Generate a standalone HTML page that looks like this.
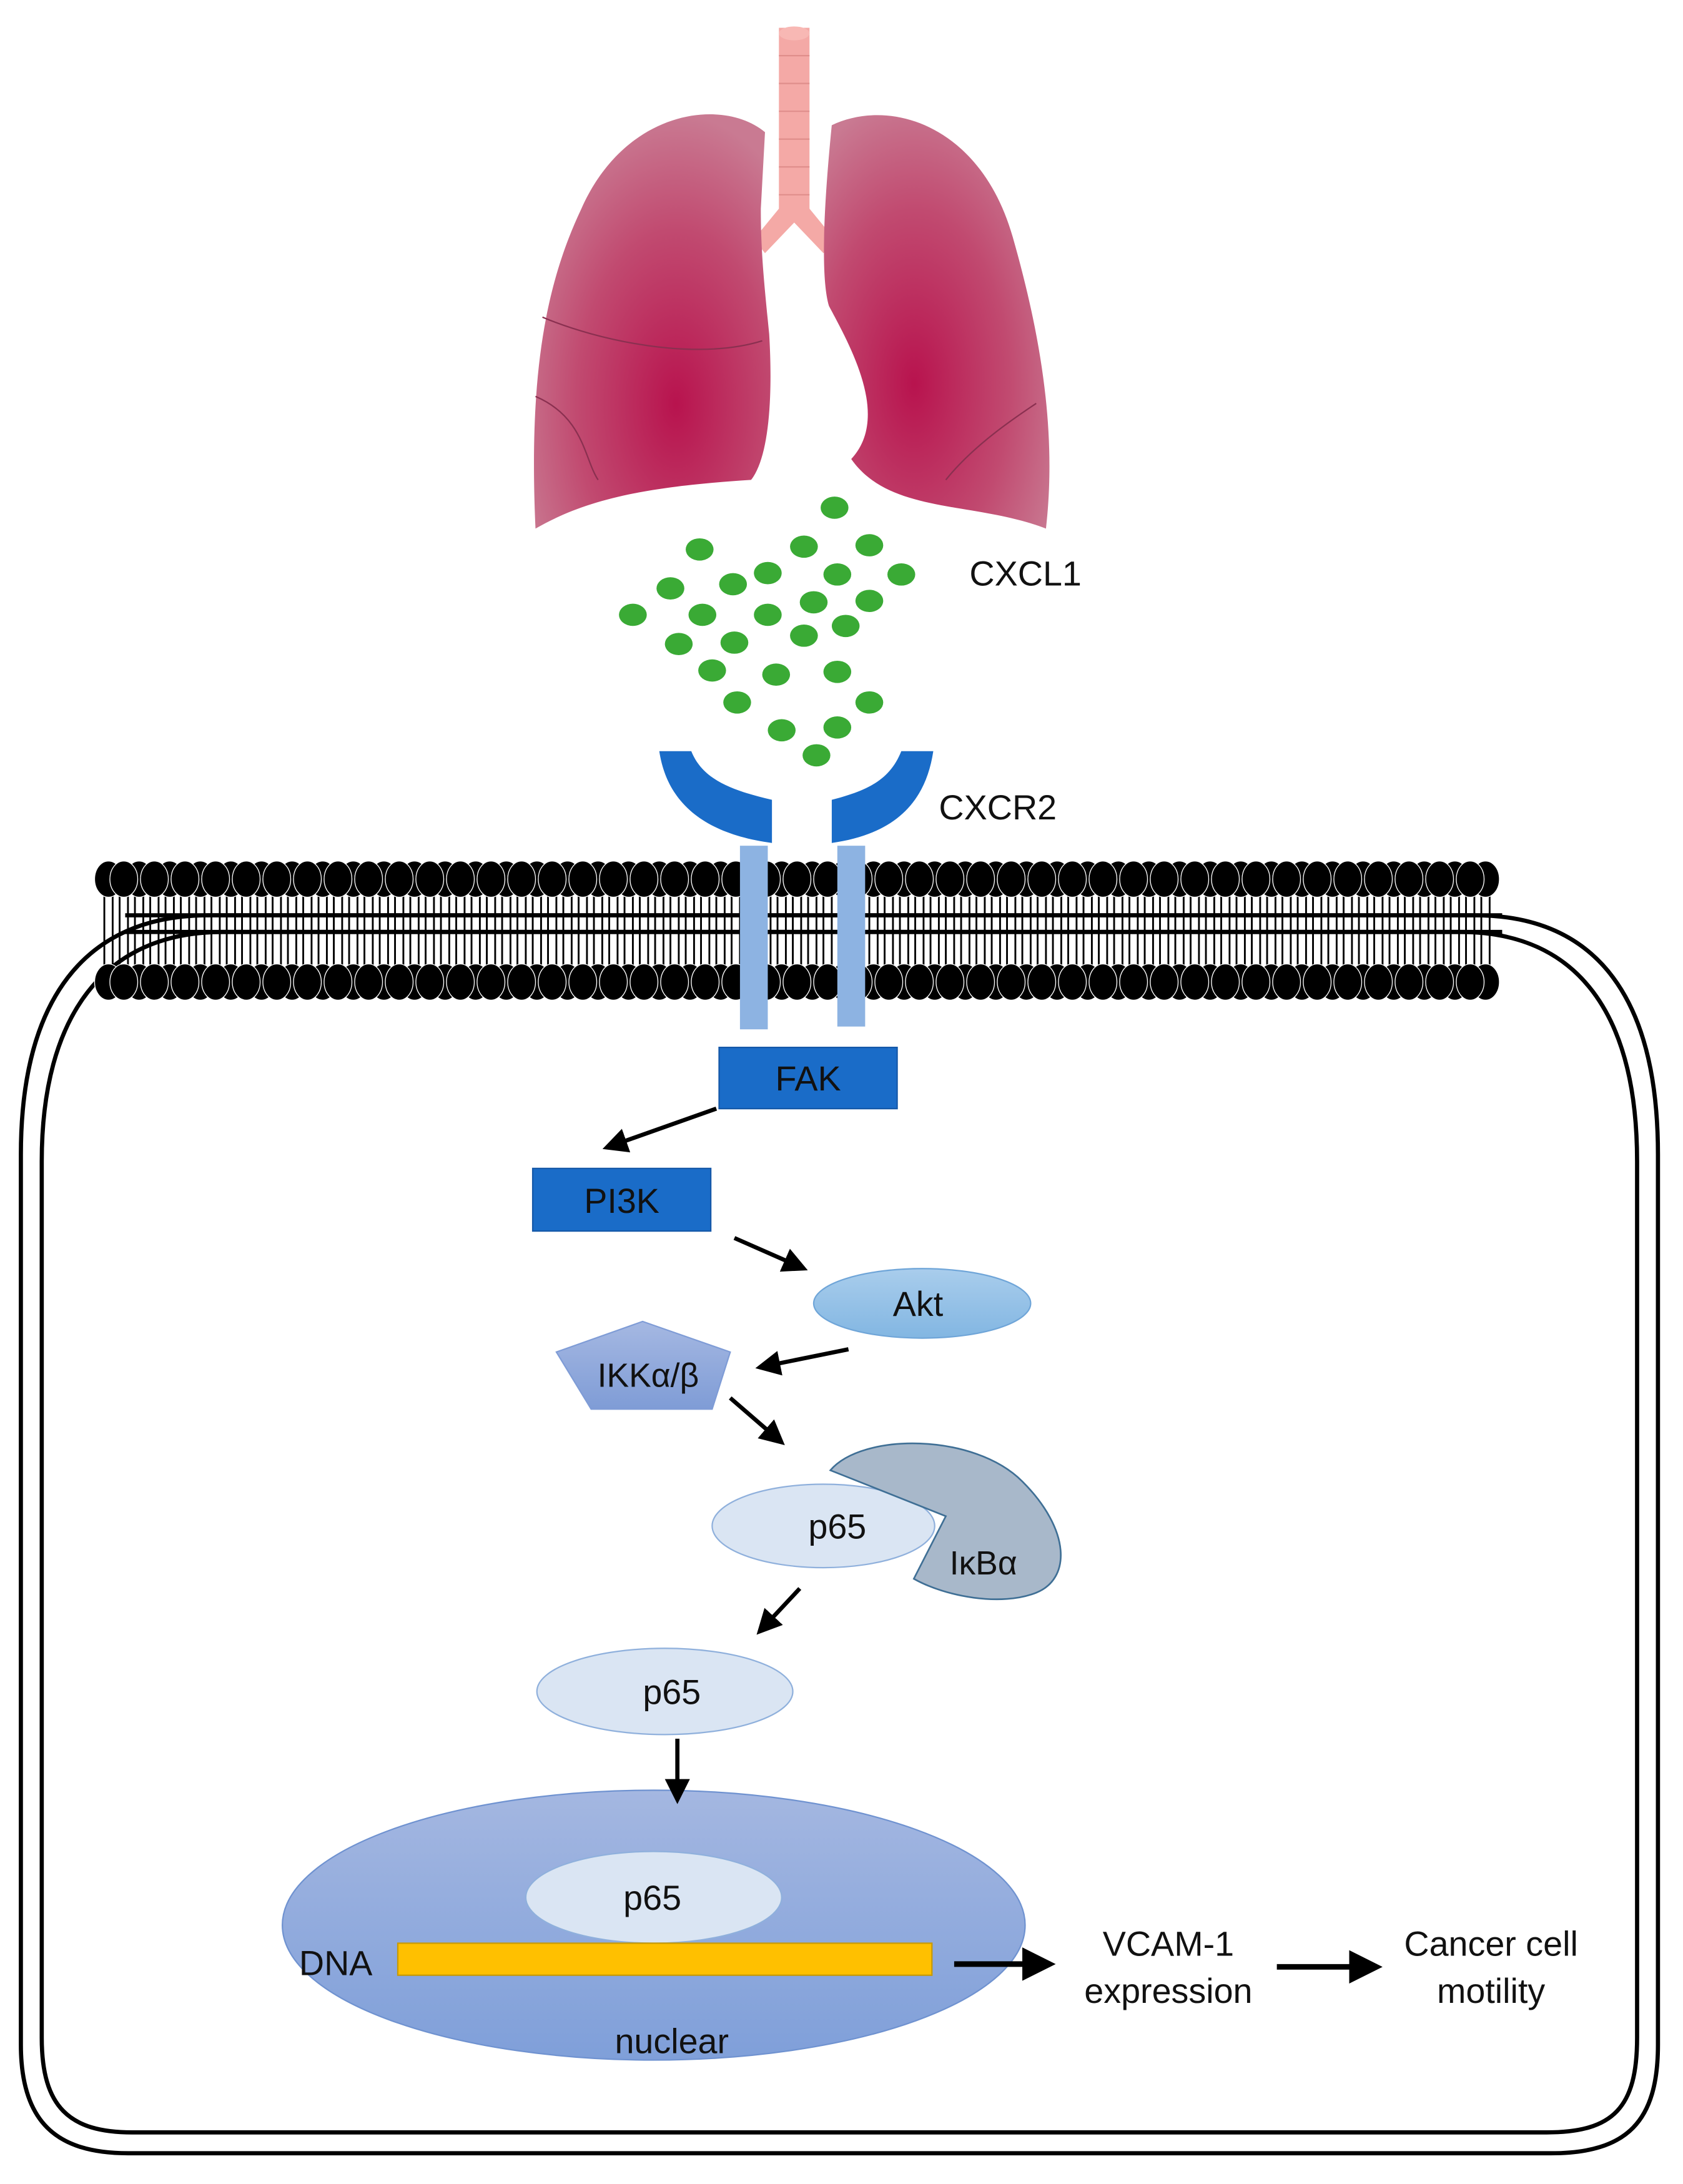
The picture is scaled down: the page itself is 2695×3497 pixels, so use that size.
<!DOCTYPE html>
<html><head><meta charset="utf-8"><style>
html,body{margin:0;padding:0;background:#fff}
svg{display:block}
text{font-family:"Liberation Sans",Arial,sans-serif;fill:#111}
</style></head><body>
<svg width="2695" height="3497" viewBox="0 0 1210 1570.1" xmlns="http://www.w3.org/2000/svg">
<defs>
<radialGradient id="lung" cx="0.6" cy="0.7" r="0.7">
<stop offset="0" stop-color="#b8134e"/><stop offset="0.6" stop-color="#c14a70"/><stop offset="1" stop-color="#c97a92"/>
</radialGradient>
<radialGradient id="lung2" cx="0.4" cy="0.65" r="0.7">
<stop offset="0" stop-color="#b8134e"/><stop offset="0.6" stop-color="#c14a70"/><stop offset="1" stop-color="#c97a92"/>
</radialGradient>
<linearGradient id="akt" x1="0" y1="0" x2="0" y2="1"><stop offset="0" stop-color="#a9cdec"/><stop offset="1" stop-color="#82b6e2"/></linearGradient>
<linearGradient id="ikk" x1="0" y1="0" x2="0" y2="1"><stop offset="0" stop-color="#a5b8e2"/><stop offset="1" stop-color="#7f9cd6"/></linearGradient>
<linearGradient id="nuc" x1="0" y1="0" x2="0" y2="1"><stop offset="0" stop-color="#a4b7e1"/><stop offset="1" stop-color="#7f9fd9"/></linearGradient>
<marker id="ah" markerWidth="6" markerHeight="6" refX="5" refY="3" orient="auto" markerUnits="strokeWidth"><path d="M0,0 L6,3 L0,6 Z" fill="#000"/></marker>
<g id="lip">
<line x1="-3" y1="640" x2="-3" y2="700" stroke="#000" stroke-width="1.3"/><line x1="3" y1="640" x2="3" y2="700" stroke="#000" stroke-width="1.3"/>
<ellipse cx="0" cy="632" rx="10" ry="13" fill="#000" stroke="#fff" stroke-width="0.6"/>
<ellipse cx="0" cy="706" rx="10" ry="13" fill="#000" stroke="#fff" stroke-width="0.6"/>
</g>
</defs>

<!-- lungs -->
<path d="M560,20 L582,20 L582,150 L600,172 L592,182 L571,160 L550,182 L542,172 L560,150 Z" fill="#f4a9a6"/>
<g stroke="#e08e8b" stroke-width="1">
<line x1="560" y1="40" x2="582" y2="40"/><line x1="560" y1="60" x2="582" y2="60"/><line x1="560" y1="80" x2="582" y2="80"/><line x1="560" y1="100" x2="582" y2="100"/><line x1="560" y1="120" x2="582" y2="120"/><line x1="560" y1="140" x2="582" y2="140"/>
</g>
<ellipse cx="571" cy="24" rx="11" ry="5" fill="#f8b8b4"/>
<path d="M550,95 C520,70 450,78 418,150 C392,205 380,270 385,380 C420,360 460,350 540,345 C552,330 556,290 553,240 C549,200 547,180 547,150 Z" fill="url(#lung)"/>
<path d="M598,90 C640,70 705,90 728,170 C748,240 760,310 752,380 C700,360 640,370 612,330 C640,300 612,250 596,220 C590,200 592,150 598,90 Z" fill="url(#lung2)"/>
<path d="M390,228 C430,245 500,260 548,245" stroke="#8a3050" stroke-width="1" fill="none"/>
<path d="M385,285 C420,300 420,330 430,345" stroke="#8a3050" stroke-width="1" fill="none"/>
<path d="M745,290 C730,300 700,320 680,345" stroke="#8a3050" stroke-width="1" fill="none"/>

<!-- CXCL1 dots -->
<g fill="#3aaa35">
<ellipse cx="600" cy="365" rx="10" ry="8"/><ellipse cx="503" cy="395" rx="10" ry="8"/><ellipse cx="578" cy="393" rx="10" ry="8"/><ellipse cx="625" cy="392" rx="10" ry="8"/>
<ellipse cx="527" cy="420" rx="10" ry="8"/><ellipse cx="552" cy="412" rx="10" ry="8"/><ellipse cx="602" cy="413" rx="10" ry="8"/><ellipse cx="648" cy="413" rx="10" ry="8"/>
<ellipse cx="482" cy="423" rx="10" ry="8"/><ellipse cx="455" cy="442" rx="10" ry="8"/><ellipse cx="505" cy="442" rx="10" ry="8"/><ellipse cx="552" cy="442" rx="10" ry="8"/>
<ellipse cx="585" cy="433" rx="10" ry="8"/><ellipse cx="625" cy="432" rx="10" ry="8"/><ellipse cx="488" cy="463" rx="10" ry="8"/><ellipse cx="528" cy="462" rx="10" ry="8"/>
<ellipse cx="578" cy="457" rx="10" ry="8"/><ellipse cx="608" cy="450" rx="10" ry="8"/><ellipse cx="512" cy="482" rx="10" ry="8"/><ellipse cx="558" cy="485" rx="10" ry="8"/>
<ellipse cx="602" cy="483" rx="10" ry="8"/><ellipse cx="530" cy="505" rx="10" ry="8"/><ellipse cx="625" cy="505" rx="10" ry="8"/><ellipse cx="562" cy="525" rx="10" ry="8"/>
<ellipse cx="602" cy="523" rx="10" ry="8"/><ellipse cx="587" cy="543" rx="10" ry="8"/>
</g>
<text x="697" y="421" font-size="25">CXCL1</text>
<text x="675" y="589" font-size="25">CXCR2</text>

<!-- receptor cups -->
<path d="M474,540 L497,540 C505,560 525,568 555,575 L555,606 C510,600 480,580 474,540 Z" fill="#1a6cc8"/>
<path d="M671,540 L648,540 C640,560 625,568 598,575 L598,606 C640,600 665,580 671,540 Z" fill="#1a6cc8"/>

<!-- cell outline -->
<path d="M15,1470 L15,830 C15,720 60,658 150,658 L1060,658 C1150,658 1192,720 1192,830 L1192,1470 C1192,1525 1170,1548 1115,1548 L92,1548 C40,1548 15,1525 15,1470 Z" fill="none" stroke="#000" stroke-width="3"/>
<path d="M30,1465 L30,835 C30,730 75,670 160,670 L1050,670 C1135,670 1177,730 1177,835 L1177,1465 C1177,1515 1160,1533 1112,1533 L95,1533 C50,1533 30,1515 30,1465 Z" fill="none" stroke="#000" stroke-width="3"/>

<!-- membrane -->
<g>
<use href="#lip" x="78"/><use href="#lip" x="100"/><use href="#lip" x="122"/><use href="#lip" x="144"/><use href="#lip" x="166"/><use href="#lip" x="188"/><use href="#lip" x="210"/><use href="#lip" x="232"/><use href="#lip" x="254"/><use href="#lip" x="276"/><use href="#lip" x="298"/><use href="#lip" x="320"/><use href="#lip" x="342"/><use href="#lip" x="364"/><use href="#lip" x="386"/><use href="#lip" x="408"/><use href="#lip" x="430"/><use href="#lip" x="452"/><use href="#lip" x="474"/><use href="#lip" x="496"/><use href="#lip" x="518"/><use href="#lip" x="540"/><use href="#lip" x="562"/><use href="#lip" x="584"/><use href="#lip" x="606"/><use href="#lip" x="628"/><use href="#lip" x="650"/><use href="#lip" x="672"/><use href="#lip" x="694"/><use href="#lip" x="716"/><use href="#lip" x="738"/><use href="#lip" x="760"/><use href="#lip" x="782"/><use href="#lip" x="804"/><use href="#lip" x="826"/><use href="#lip" x="848"/><use href="#lip" x="870"/><use href="#lip" x="892"/><use href="#lip" x="914"/><use href="#lip" x="936"/><use href="#lip" x="958"/><use href="#lip" x="980"/><use href="#lip" x="1002"/><use href="#lip" x="1024"/><use href="#lip" x="1046"/><use href="#lip" x="1068"/>
<use href="#lip" x="89"/><use href="#lip" x="111"/><use href="#lip" x="133"/><use href="#lip" x="155"/><use href="#lip" x="177"/><use href="#lip" x="199"/><use href="#lip" x="221"/><use href="#lip" x="243"/><use href="#lip" x="265"/><use href="#lip" x="287"/><use href="#lip" x="309"/><use href="#lip" x="331"/><use href="#lip" x="353"/><use href="#lip" x="375"/><use href="#lip" x="397"/><use href="#lip" x="419"/><use href="#lip" x="441"/><use href="#lip" x="463"/><use href="#lip" x="485"/><use href="#lip" x="507"/><use href="#lip" x="529"/><use href="#lip" x="551"/><use href="#lip" x="573"/><use href="#lip" x="595"/><use href="#lip" x="617"/><use href="#lip" x="639"/><use href="#lip" x="661"/><use href="#lip" x="683"/><use href="#lip" x="705"/><use href="#lip" x="727"/><use href="#lip" x="749"/><use href="#lip" x="771"/><use href="#lip" x="793"/><use href="#lip" x="815"/><use href="#lip" x="837"/><use href="#lip" x="859"/><use href="#lip" x="881"/><use href="#lip" x="903"/><use href="#lip" x="925"/><use href="#lip" x="947"/><use href="#lip" x="969"/><use href="#lip" x="991"/><use href="#lip" x="1013"/><use href="#lip" x="1035"/><use href="#lip" x="1057"/>
</g>
<line x1="90" y1="658" x2="1080" y2="658" stroke="#000" stroke-width="3"/>
<line x1="90" y1="670" x2="1080" y2="670" stroke="#000" stroke-width="3"/>

<!-- TM bars -->
<rect x="532" y="608" width="20" height="132" fill="#8db3e2"/>
<rect x="602" y="608" width="20" height="130" fill="#8db3e2"/>

<!-- FAK, PI3K -->
<rect x="517" y="753" width="128" height="44" fill="#1a6cc8" stroke="#1558a8" stroke-width="1"/>
<text x="581" y="784" font-size="25" text-anchor="middle">FAK</text>
<rect x="383" y="840" width="128" height="45" fill="#1a6cc8" stroke="#1558a8" stroke-width="1"/>
<text x="447" y="872" font-size="25" text-anchor="middle">PI3K</text>

<ellipse cx="663" cy="937" rx="78" ry="25" fill="url(#akt)" stroke="#6fa5d8" stroke-width="1"/>
<text x="660" y="946" font-size="25" text-anchor="middle">Akt</text>

<polygon points="462,950 525,972 512,1013 425,1013 400,972" fill="url(#ikk)" stroke="#7f9cd6" stroke-width="1"/>
<text x="466" y="997" font-size="24" text-anchor="middle">IKKα/β</text>

<ellipse cx="592" cy="1097" rx="80" ry="30" fill="#dae5f3" stroke="#8fb0dc" stroke-width="1"/>
<path d="M597,1057 C620,1030 700,1030 735,1065 C770,1100 770,1135 745,1145 C720,1155 680,1148 657,1135 L680,1090 Z" fill="#a8b8ca" stroke="#3f6f95" stroke-width="1.2"/>
<text x="602" y="1106" font-size="25" text-anchor="middle">p65</text>
<text x="707" y="1132" font-size="24" text-anchor="middle">IκBα</text>

<ellipse cx="478" cy="1216" rx="92" ry="31" fill="#dae5f3" stroke="#8fb0dc" stroke-width="1"/>
<text x="483" y="1225" font-size="25" text-anchor="middle">p65</text>

<ellipse cx="470" cy="1384" rx="267" ry="97" fill="url(#nuc)" stroke="#6f92d0" stroke-width="1"/>
<ellipse cx="470" cy="1364" rx="92" ry="33" fill="#dae5f3" stroke="#8fb0dc" stroke-width="1"/>
<text x="469" y="1373" font-size="25" text-anchor="middle">p65</text>
<rect x="286" y="1397" width="384" height="23" fill="#ffc000" stroke="#c89a00" stroke-width="1"/>
<text x="215" y="1420" font-size="25">DNA</text>
<text x="483" y="1476" font-size="25" text-anchor="middle">nuclear</text>

<g stroke="#000" stroke-width="3" fill="none" marker-end="url(#ah)">
<line x1="515" y1="797" x2="436" y2="825"/>
<line x1="528" y1="890" x2="578" y2="912"/>
<line x1="610" y1="970" x2="546" y2="983"/>
<line x1="525" y1="1005" x2="562" y2="1037"/>
<line x1="575" y1="1142" x2="546" y2="1173"/>
<line x1="487" y1="1250" x2="487" y2="1294"/>
<line x1="686" y1="1412" x2="755" y2="1412" stroke-width="4"/>
<line x1="918" y1="1414" x2="990" y2="1414" stroke-width="4"/>
</g>

<text x="840" y="1406" font-size="25" text-anchor="middle">VCAM-1</text>
<text x="840" y="1440" font-size="25" text-anchor="middle">expression</text>
<text x="1072" y="1406" font-size="25" text-anchor="middle">Cancer cell</text>
<text x="1072" y="1440" font-size="25" text-anchor="middle">motility</text>
</svg>
</body></html>
